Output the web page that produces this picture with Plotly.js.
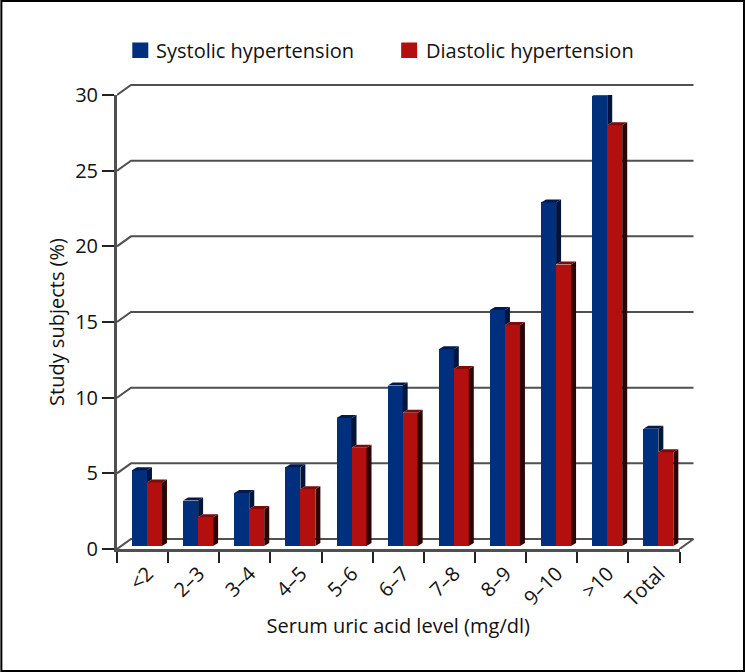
<!DOCTYPE html>
<html><head><meta charset="utf-8">
<script src="https://cdn.plot.ly/plotly-3.0.1.min.js"></script>
<style>html,body{margin:0;padding:0;background:#fff}#c{width:745px;height:672px}</style>
</head><body><div id="c"></div>
<script>
const categories = ['<2','2–3','3–4','4–5','5–6','6–7','7–8','8–9','9–10','>10','Total'];
const systolic  = [5.0,3.0,3.5,5.2,8.45,10.6,13.0,15.6,22.7,29.75,7.75];
const diastolic = [4.2,1.9,2.45,3.75,6.5,8.8,11.7,14.6,18.6,27.8,6.2];
const yTicks = [0,5,10,15,20,25,30];
const seriesNames = ['Systolic hypertension','Diastolic hypertension'];
const W=745,H=672,L=116.7,R=679.5,T=95,B=549,R2=697,T2=82;
const FONT='"Open Sans", "Noto Sans", sans-serif';
const xs = categories.map((_,i)=>i);
const boundaries = categories.concat(['']).map((_,i)=>i-0.5);
const pxX=(R-L)/11, pxY=(B-T)/30;
const wallDX=14/pxX, wallDY=10/pxY;
const barW=15/pxX, off1=-0.207, off2=off1+barW, baseShift=3/pxY;
const dX=5/pxX, dY=3/pxY;

// back wall grid + floor
let gx=[],gy=[];
yTicks.forEach(v=>{gx.push(-0.5,-0.5+wallDX,10.5+wallDX,null);gy.push(v,v+wallDY,v+wallDY,null);});
gx.push(10.5,10.5+wallDX,null);gy.push(0,wallDY,null);

function poly(list){const x=[],y=[];list.forEach(p=>{p.forEach(q=>{x.push(q[0]);y.push(q[1]);});x.push(null);y.push(null);});return {x,y};}
const top1=systolic.map(v=>v+baseShift), top2=diastolic.map(v=>v+baseShift);
const blueTop=poly(xs.map(i=>{const a=i+off1,t=top1[i];return [[a,t],[a+barW,t],[a+barW+dX,t+dY],[a+dX,t+dY]];}));
const blueSide=poly(xs.map(i=>{const a=i+off1+barW,t=top1[i],r=top2[i];return [[a,t],[a+dX,t+dY],[a+dX,r+dY],[a,r]];}));
const redTop=poly(xs.map(i=>{const a=i+off2,t=top2[i];return [[a,t],[a+barW,t],[a+barW+dX,t+dY],[a+dX,t+dY]];}));
const redSide=poly(xs.map(i=>{const a=i+off2+barW,t=top2[i];return [[a,t],[a+dX,t+dY],[a+dX,baseShift+dY],[a,baseShift]];}));
const face=(p,c)=>({type:'scatter',mode:'lines',x:p.x,y:p.y,fill:'toself',fillcolor:c,line:{width:0,color:c},xaxis:'x2',yaxis:'y2',hoverinfo:'skip',showlegend:false});

const traces=[
 {type:'scatter',mode:'lines',x:gx,y:gy,line:{color:'#505050',width:2},hoverinfo:'skip',showlegend:false},
 {type:'bar',name:seriesNames[0],x:xs,y:systolic,base:baseShift,offset:off1,width:barW,marker:{color:'#002f7e',line:{width:0}},xaxis:'x2',yaxis:'y2',showlegend:false},
 {type:'bar',name:seriesNames[1],x:xs,y:diastolic,base:baseShift,offset:off2,width:barW,marker:{color:'#b40f0f',line:{width:0}},xaxis:'x2',yaxis:'y2',showlegend:false},
 face(blueSide,'#00143c'),face(blueTop,'#001a4e'),face(redSide,'#2c0404'),face(redTop,'#7e0a0a')
];
const px=v=>(v-L)/(R2-L), py=v=>(B-v)/(B-T2);
const swatch=(x,c)=>({type:'rect',xref:'paper',yref:'paper',x0:px(x),x1:px(x+16),y0:py(58),y1:py(42.5),fillcolor:c,line:{width:0}});
const layout={
 width:W,height:H,margin:{l:L,r:W-R2,t:T2,b:H-B,pad:0},paper_bgcolor:'#fff',plot_bgcolor:'rgba(0,0,0,0)',
 font:{family:FONT,size:20,color:'#111'},showlegend:false,bargap:0,barmode:'overlay',
 xaxis:{domain:[0,1],range:[-0.5,-0.5+(R2-L)/pxX],visible:false,anchor:'y'},
 yaxis:{domain:[0,1],range:[0,(B-T2)/pxY],visible:false,anchor:'x'},
 xaxis2:{domain:[0,(R-L)/(R2-L)],anchor:'y2',range:[-0.5,10.5],tickmode:'array',tickvals:xs,ticktext:categories,ticks:'',tickangle:-45,showgrid:false,zeroline:false,
   showline:true,linecolor:'#505050',linewidth:3,tickfont:{size:20},ticklabelshift:5,ticklabelstandoff:2,
   minor:{tickmode:'array',tickvals:boundaries,ticks:'outside',ticklen:11,tickwidth:2,tickcolor:'#222',showgrid:false},
   title:{text:'Serum uric acid level (mg/dl)',font:{size:20},standoff:8}},
 yaxis2:{domain:[0,(B-T)/(B-T2)],anchor:'x2',range:[0,30],tickmode:'array',tickvals:yTicks,ticks:'outside',ticklen:12,tickwidth:2,tickcolor:'#222',showgrid:false,zeroline:false,
   showline:true,linecolor:'#505050',linewidth:3,tickfont:{size:20},
   title:{text:'Study subjects (%)',font:{size:20},standoff:6}},
 shapes:[swatch(132,'#002f7e'),swatch(401,'#b40f0f'),
  {type:'rect',xref:'paper',yref:'paper',x0:px(1),x1:px(744),y0:py(671),y1:py(1),line:{color:'#000',width:2},fillcolor:'rgba(0,0,0,0)'}],
 annotations:[
  {xref:'paper',yref:'paper',x:px(154),y:py(51),xanchor:'left',yanchor:'middle',showarrow:false,text:seriesNames[0],font:{size:20,family:FONT,color:'#111'}},
  {xref:'paper',yref:'paper',x:px(424),y:py(51),xanchor:'left',yanchor:'middle',showarrow:false,text:seriesNames[1],font:{size:20,family:FONT,color:'#111'}}
 ]
};
Plotly.newPlot('c',traces,layout,{displayModeBar:false,staticPlot:true});
</script></body></html>
